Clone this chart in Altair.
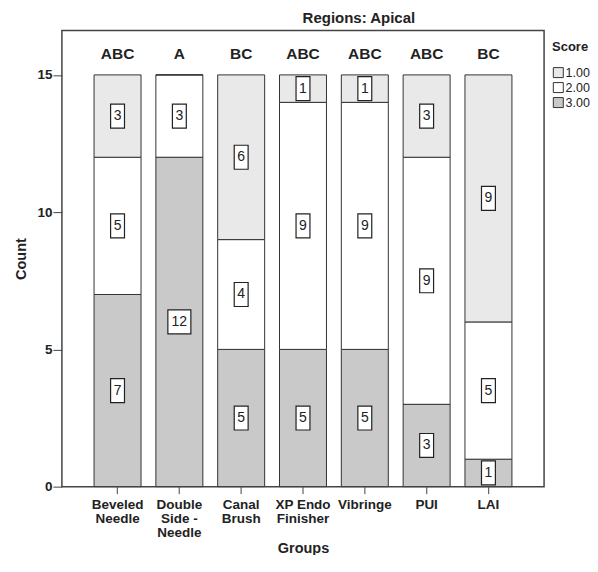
import altair as alt
import pandas as pd

groups = ["Beveled Needle", "Double Side - Needle", "Canal Brush", "XP Endo Finisher", "Vibringe", "PUI", "LAI"]
label_lines = ["Beveled|Needle", "Double|Side -|Needle", "Canal|Brush", "XP Endo|Finisher", "Vibringe", "PUI", "LAI"]
score_3 = [7, 12, 5, 5, 5, 3, 1]
score_2 = [5, 3, 4, 9, 9, 9, 5]
score_1 = [3, 0, 6, 1, 1, 3, 9]
letters = ["ABC", "A", "BC", "ABC", "ABC", "ABC", "BC"]
scores = ["1.00", "2.00", "3.00"]
fills = ["#e9e9e9", "#ffffff", "#c9c9c9"]

rows = []
for i, g in enumerate(groups):
    base = 0
    for sc, vals, o in (("3.00", score_3, 1), ("2.00", score_2, 2), ("1.00", score_1, 3)):
        v = vals[i]
        rows.append({"group": label_lines[i], "score": sc, "count": v, "ord": o,
                     "mid": base + v / 2, "lab": str(v),
                     "shp": "M-0.96,-1H0.96V1H-0.96Z" if v >= 10 else "M-0.58,-1H0.58V1H-0.58Z"})
        base += v
df = pd.DataFrame(rows)
lab_df = df[df["count"] > 0]
let_df = pd.DataFrame({"group": label_lines, "letter": letters})

FONT = "Liberation Sans"
xenc = alt.X("group:N", sort=label_lines, title="Groups",
             scale=alt.Scale(paddingInner=0.24, paddingOuter=0.52),
             axis=alt.Axis(labelExpr="split(datum.label, '|')", labelAngle=0,
                           labelFont=FONT, labelFontWeight="bold", labelFontSize=13.5,
                           labelColor="#222", labelLineHeight=14, tickSize=7, tickColor="#444",
                           domain=False, titleFont=FONT, titleFontWeight="bold",
                           titleFontSize=14.5, titleColor="#222", titlePadding=2, labelPadding=4))

bars = alt.Chart(df).mark_bar(stroke="#333", strokeWidth=1).encode(
    x=xenc,
    y=alt.Y("count:Q", stack="zero", title="Count",
            scale=alt.Scale(domain=[0, 16.62], nice=False),
            axis=alt.Axis(values=[0, 5, 10, 15], grid=False, tickSize=9, tickColor="#444",
                          labelFont=FONT, labelFontWeight="bold", labelFontSize=13.5,
                          labelColor="#222", labelPadding=1, domain=False,
                          titleFont=FONT, titleFontWeight="bold", titleFontSize=14.5,
                          titleColor="#222", titlePadding=8)),
    fill=alt.Fill("score:N", scale=alt.Scale(domain=scores, range=fills),
                  legend=alt.Legend(title="Score", symbolType="square", symbolSize=100,
                                    symbolStrokeColor="#333", symbolStrokeWidth=1,
                                    titleFont=FONT, titleFontSize=13,
                                    titleFontWeight="bold", titleColor="#222", titlePadding=12,
                                    labelFont=FONT, labelFontSize=12.5, labelColor="#222",
                                    rowPadding=0, labelOffset=1, padding=0,
                                    orient="none", legendX=491, legendY=11)),
    order=alt.Order("ord:Q", sort="ascending"),
)

boxes = alt.Chart(lab_df).mark_point(filled=True, fill="white", stroke="#222",
                                     strokeWidth=1.2, opacity=1, size=576).encode(
    x=alt.X("group:N", sort=label_lines),
    y=alt.Y("mid:Q"),
    shape=alt.Shape("shp:N", scale=None),
)
nums = alt.Chart(lab_df).mark_text(font=FONT, fontSize=14, color="#222").encode(
    x=alt.X("group:N", sort=label_lines),
    y=alt.Y("mid:Q"),
    text="lab:N",
)
lets = alt.Chart(let_df).mark_text(font=FONT, fontSize=15.5, fontWeight="bold",
                                   color="#222").encode(
    x=alt.X("group:N", sort=label_lines),
    y=alt.datum(15.75),
    text="letter:N",
)

chart = alt.layer(bars, boxes, nums, lets).properties(
    width=483, height=457,
    title=alt.Title("Regions: Apical", font=FONT, fontSize=15, fontWeight="bold",
                    color="#222", anchor="middle", dx=56, offset=4),
    padding={"left": 5, "top": 3, "right": 0, "bottom": 0},
).configure_view(stroke="#444", strokeWidth=1.5)

chart.save("out.html", embed_options={"renderer": "svg", "actions": False})
